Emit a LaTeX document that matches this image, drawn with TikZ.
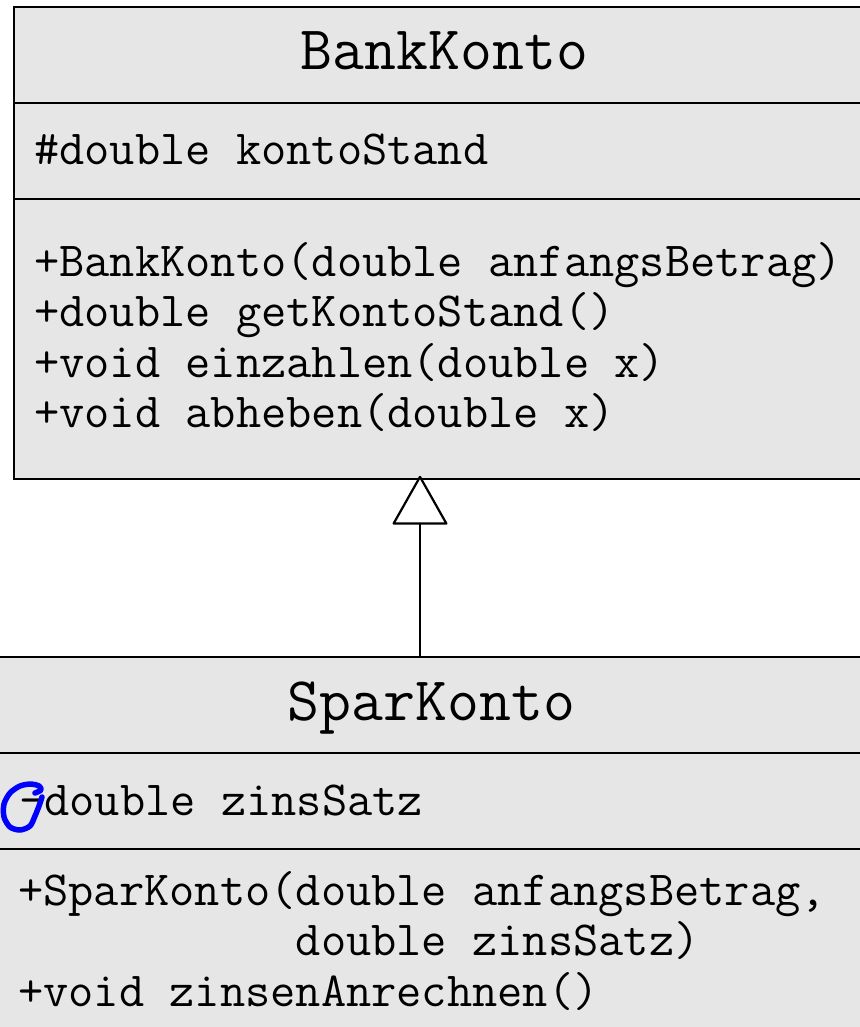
\documentclass[tikz,border=0pt]{standalone}
\usepackage{fontspec}
\usetikzlibrary{arrows.meta}
\definecolor{umlgray}{RGB}{230,230,230}
\begin{document}
\begin{tikzpicture}[x=1pt,y=-1pt,
  comp/.style={draw=black, fill=umlgray, line width=1.5pt, rectangle, inner sep=0pt},
  titletext/.style={font=\ttfamily\fontsize{62}{70}\selectfont, anchor=base, inner sep=0pt},
  bodytext/.style={font=\ttfamily\fontsize{49}{56}\selectfont, anchor=base west, inner sep=0pt},
  gen/.style={line width=2.2pt, -{Triangle[length=50pt, width=56pt, fill=white, round=false]}},
  scribble/.style={draw=blue, line width=5.5pt, line cap=round, line join=round}
]
\useasboundingbox (0,0) rectangle (859,1027);
% BankKonto class
\node[comp, minimum width=861pt, minimum height=96pt] (bkN) at (444.5,55) {};
\node[comp, minimum width=861pt, minimum height=96pt] (bkA) at (444.5,151) {};
\node[comp, minimum width=861pt, minimum height=280pt] (bkM) at (444.5,339) {};
% SparKonto class
\node[comp, minimum width=887pt, minimum height=96pt] (skN) at (431.5,705) {};
\node[comp, minimum width=887pt, minimum height=96pt] (skA) at (431.5,801) {};
\node[comp, minimum width=887pt, minimum height=200pt] (skM) at (431.5,949) {};
% texts BankKonto
\node[titletext] (bkT) at (444.5,70) {BankKonto};
\node[bodytext] (bka1) at (34,165) {\#double kontoStand};
\node[bodytext] (bkm1) at (34,276) {+BankKonto(double anfangsBetrag)};
\node[bodytext] (bkm2) at (34,326.5) {+double getKontoStand()};
\node[bodytext] (bkm3) at (34,377) {+void einzahlen(double x)};
\node[bodytext] (bkm4) at (34,427.5) {+void abheben(double x)};
% texts SparKonto
\node[titletext] (skT) at (431.5,720) {SparKonto};
\node[bodytext] (ska1) at (19,815) {-double zinsSatz};
\node[bodytext] (skm1) at (18,905) {+SparKonto(double anfangsBetrag,};
\node[bodytext] (skm2) at (18,955.5) {\phantom{+SparKonto(}double zinsSatz)};
\node[bodytext] (skm3) at (18,1006) {+void zinsenAnrechnen()};
% generalization
\draw[gen] ([xshift=-11.5pt]skN.north) -- ([xshift=-24.5pt,yshift=4pt]bkM.south);
% blue hand-drawn loop
\draw[scribble] plot[smooth] coordinates {(35,793) (41,790) (39,786) (31,784) (20,786) (10,793) (4,804) (4,817) (10,827) (20,830) (30,826) (35,816) (39,806) (42,797)};
\end{tikzpicture}
\end{document}
